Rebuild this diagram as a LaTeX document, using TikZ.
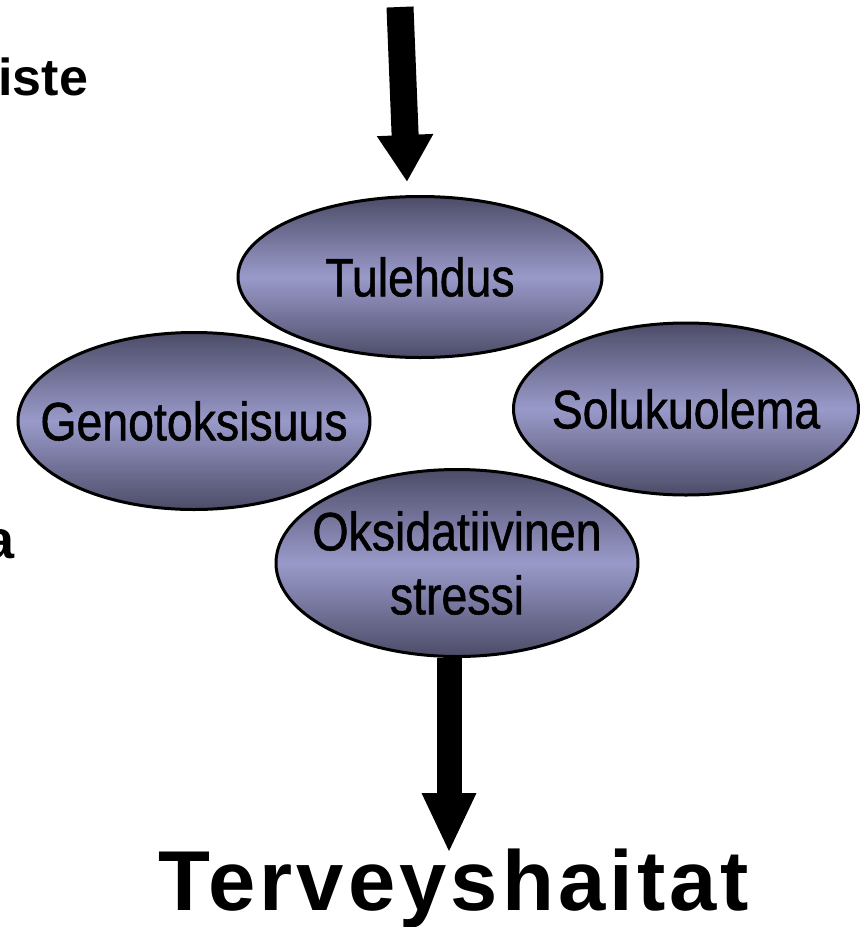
\documentclass[tikz,border=0pt]{standalone}
\usepackage{fontspec}
\setmainfont{Liberation Sans}
\newfontfamily\narrowfont{Liberation Sans}[FakeStretch=0.86,FakeBold=1]
\newfontfamily\widefont{Liberation Sans}[LetterSpace=4.8]
\usetikzlibrary{shapes.geometric,arrows.meta}

\definecolor{blobdark}{RGB}{76,76,104}
\definecolor{bloblight}{RGB}{154,154,202}

\begin{document}
\begin{tikzpicture}[x=0.5pt,y=-0.5pt,
    blob/.style={ellipse,draw=black,line width=1.5pt,inner sep=0pt,
        top color=blobdark,bottom color=blobdark,middle color=bloblight},
    bloblabel/.style={inner sep=0pt,align=center,text=black,
        font=\narrowfont\fontsize{27}{32}\selectfont},
    bigarrow/.style={line width=#1}]
        \useasboundingbox (0,0) rectangle (860,927);

        \coordinate (topsrc) at (400,7);
        \coordinate (toptip) at (407,182);
        \coordinate (bottip) at (449,853);

        \node[blob,minimum width=182pt,minimum height=80.5pt,
              label={[bloblabel]center:Tulehdus}] at (420,277)(tul){};
        \node[blob,minimum width=176pt,minimum height=88.5pt,
              label={[bloblabel]center:Genotoksisuus}] at (194,421)(geno){};
        \node[blob,minimum width=172.5pt,minimum height=86pt,
              label={[bloblabel]center:Solukuolema}] at (686,409)(solu){};
        \node[blob,minimum width=181pt,minimum height=93.5pt,
              label={[bloblabel]center:Oksidatiivinen\\stressi}] at (457,563)(oks){};

        \node[anchor=base,inner sep=0pt,font=\widefont\fontsize{42.5}{50}\bfseries] at (454,910)(terv){Terveyshaitat};
        \node[anchor=base west,inner sep=0pt,font=\fontsize{26}{30}\bfseries] at (-2,95)(iste){iste};
        \node[anchor=base west,inner sep=0pt,font=\fontsize{27}{30}\bfseries] at (-16,558)(aa){a};

        \path
        (topsrc)edge[bigarrow=13.5pt,-{Triangle[length=23.5pt,width=26.5pt]}](toptip)
        (oks.south -| bottip)edge[bigarrow=12.5pt,-{Triangle[length=30pt,width=25pt]}](bottip)
        ;
    \end{tikzpicture}
\end{document}
